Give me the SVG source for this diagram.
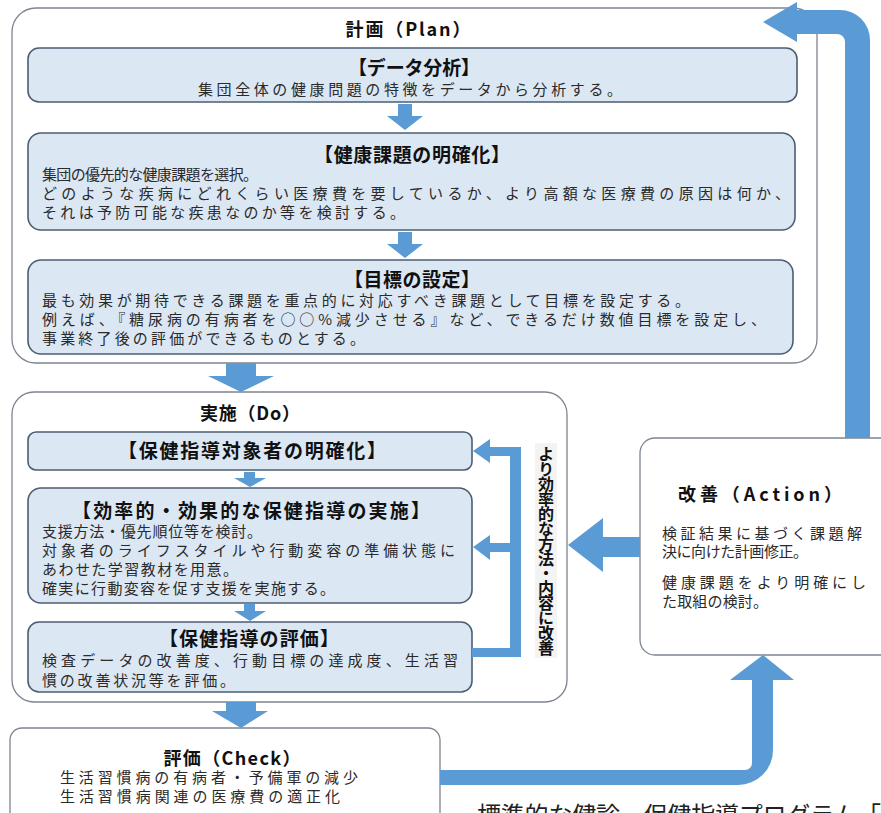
<svg xmlns="http://www.w3.org/2000/svg" width="881" height="813" viewBox="0 0 881 813">
<defs>
<style>
.outer{fill:#ffffff;stroke:#7d8590;stroke-width:1.3}
.inner{fill:#dce7f4;stroke:#4c5e72;stroke-width:1.6}
.arrow{fill:#5b9bd5;stroke:none}
.t{font-family:"Noto Sans CJK JP","Noto Sans",sans-serif;fill:#2a2a2a;font-size:15px}
.b{font-family:"Noto Sans CJK JP","Noto Sans",sans-serif;fill:#111;font-weight:bold;font-size:19px}
.h{font-family:"Noto Sans CJK JP","Noto Sans",sans-serif;fill:#111;font-weight:bold;font-size:18px}
</style>
</defs>
<rect width="881" height="813" fill="#ffffff"/>

<g id="plan">
<rect class="outer" x="12" y="8" width="805" height="355" rx="24"/>
<text class="h" x="408" y="36" text-anchor="middle" textLength="125" lengthAdjust="spacing">計画（Plan）</text>
</g>
<g id="data-analysis">
<rect class="inner" x="28" y="48" width="769" height="54" rx="11"/>
<text class="b" x="414" y="75" text-anchor="middle" textLength="132" lengthAdjust="spacing">【データ分析】</text>
<text class="t" x="198" y="95" textLength="424" lengthAdjust="spacing">集団全体の健康問題の特徴をデータから分析する。</text>
</g>
<g id="health-issue">
<rect class="inner" x="28" y="133" width="767" height="97" rx="13"/>
<text class="b" x="412" y="162" text-anchor="middle" textLength="196" lengthAdjust="spacing">【健康課題の明確化】</text>
<text class="t" x="42" y="180" textLength="216" lengthAdjust="spacing">集団の優先的な健康課題を選択。</text>
<text class="t" x="42" y="199" textLength="748" lengthAdjust="spacing">どのような疾病にどれくらい医療費を要しているか、より高額な医療費の原因は何か、</text>
<text class="t" x="42" y="218" textLength="363" lengthAdjust="spacing">それは予防可能な疾患なのか等を検討する。</text>
</g>
<g id="goal">
<rect class="inner" x="28" y="260" width="765" height="94" rx="13"/>
<text class="b" x="412" y="287" text-anchor="middle" textLength="136" lengthAdjust="spacing">【目標の設定】</text>
<text class="t" x="42" y="306" textLength="648" lengthAdjust="spacing">最も効果が期待できる課題を重点的に対応すべき課題として目標を設定する。</text>
<text class="t" x="42" y="325" textLength="724" lengthAdjust="spacing">例えば、『糖尿病の有病者を○○%減少させる』など、できるだけ数値目標を設定し、</text>
<text class="t" x="42" y="344" textLength="323" lengthAdjust="spacing">事業終了後の評価ができるものとする。</text>
</g>

<g id="do">
<rect class="outer" x="12" y="392" width="555" height="310" rx="22"/>
<text class="h" x="250" y="420" text-anchor="middle" textLength="100" lengthAdjust="spacing">実施（Do）</text>
</g>
<g id="target">
<rect class="inner" x="28" y="432" width="444" height="38" rx="8"/>
<text class="b" x="252" y="458" text-anchor="middle" textLength="268" lengthAdjust="spacing">【保健指導対象者の明確化】</text>
</g>
<g id="implementation">
<rect class="inner" x="28" y="488" width="444" height="115" rx="13"/>
<text class="b" x="251" y="518" text-anchor="middle" textLength="358" lengthAdjust="spacing">【効率的・効果的な保健指導の実施】</text>
<text class="t" x="42" y="537" textLength="220" lengthAdjust="spacing">支援方法・優先順位等を検討。</text>
<text class="t" x="42" y="556" textLength="413" lengthAdjust="spacing">対象者のライフスタイルや行動変容の準備状態に</text>
<text class="t" x="42" y="575" textLength="196" lengthAdjust="spacing">あわせた学習教材を用意。</text>
<text class="t" x="42" y="594" textLength="293" lengthAdjust="spacing">確実に行動変容を促す支援を実施する。</text>
</g>
<g id="evaluation">
<rect class="inner" x="28" y="622" width="444" height="70" rx="11"/>
<text class="b" x="249" y="646" text-anchor="middle" textLength="180" lengthAdjust="spacing">【保健指導の評価】</text>
<text class="t" x="42" y="666" textLength="416" lengthAdjust="spacing">検査データの改善度、行動目標の達成度、生活習</text>
<text class="t" x="42" y="686" textLength="193" lengthAdjust="spacing">慣の改善状況等を評価。</text>
</g>

<g id="check">
<path class="outer" d="M10,830 L10,740 A12,12 0 0 1 22,728 L428,728 A12,12 0 0 1 440,740 L440,830"/>
<text class="h" x="232" y="765" text-anchor="middle" font-size="20" textLength="137" lengthAdjust="spacing">評価（Check）</text>
<text class="t" x="60" y="783" textLength="298" lengthAdjust="spacing">生活習慣病の有病者・予備軍の減少</text>
<text class="t" x="60" y="802" textLength="280" lengthAdjust="spacing">生活習慣病関連の医療費の適正化</text>
</g>

<g id="action">
<path class="outer" d="M900,438 L655,438 A15,15 0 0 0 640,453 L640,640 A15,15 0 0 0 655,655 L900,655"/>
<text class="h" x="760" y="501" text-anchor="middle" font-size="20" textLength="164" lengthAdjust="spacing">改善（Action）</text>
<text class="t" x="662" y="539" textLength="200" lengthAdjust="spacing">検証結果に基づく課題解</text>
<text class="t" x="662" y="557" textLength="146" lengthAdjust="spacing">決に向けた計画修正。</text>
<text class="t" x="662" y="588" textLength="204" lengthAdjust="spacing">健康課題をより明確にし</text>
<text class="t" x="662" y="607" textLength="106" lengthAdjust="spacing">た取組の検討。</text>
</g>

<g id="improve-label">
<rect x="535" y="443" width="22" height="215" fill="#f3f3f3"/>
<text class="b" x="546" y="446" style="writing-mode:vertical-rl;font-size:16px" textLength="210" lengthAdjust="spacing">より効率的な方法・内容に改善</text>
</g>

<g id="connectors">
<path class="arrow" d="M398,104 L412,104 L412,116 L423,116 L405,130 L387,116 L398,116 Z"/>
<path class="arrow" d="M398,232 L412,232 L412,244 L423,244 L405,258 L387,244 L398,244 Z"/>
<path class="arrow" d="M226,363 L256,363 L256,376 L274,376 L241,392 L208,376 L226,376 Z"/>
<path class="arrow" d="M244,472 L255,472 L255,478 L266,478 L250,487 L234,478 L244,478 Z"/>
<path class="arrow" d="M244,604 L255,604 L255,611 L266,611 L250,621 L234,611 L244,611 Z"/>
<path class="arrow" d="M226,702 L256,702 L256,711 L268,711 L241,728 L212,711 L226,711 Z"/>
<path class="arrow" d="M521,447 L521,657 L472,657 L472,648 L510,648 L510,552 L490,552 L490,560 L473,547 L490,535 L490,543 L510,543 L510,456 L490,456 L490,463 L473,451 L490,439 L490,447 Z"/>
<path class="arrow" d="M640,537 L640,557 L603,557 L603,572 L568,545 L603,518 L603,537 Z"/>
<path class="arrow" d="M870,438 L870,40 A30,30 0 0 0 840,10 L797,10 L797,2 L763,22 L797,42 L797,34 L837,34 A8,8 0 0 1 845,42 L845,438 Z"/>
<path class="arrow" d="M440,770 L745,770 A7,7 0 0 0 752,763 L752,680 L730,680 L763,655 L794,680 L773,680 L773,750 A35,35 0 0 1 738,785 L440,785 Z"/>
</g>

<text x="477" y="824" font-family="Noto Sans CJK JP, sans-serif" font-size="24" fill="#222" textLength="404" lengthAdjust="spacing">標準的な健診・保健指導プログラム「</text>
</svg>
